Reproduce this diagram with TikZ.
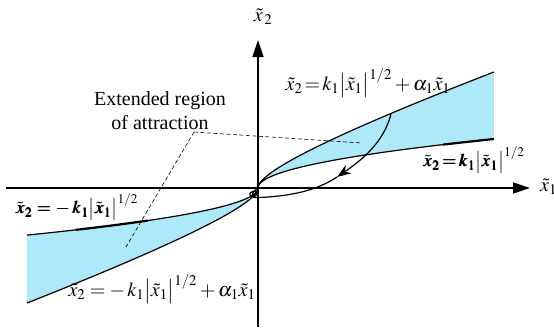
\documentclass[tikz,border=0pt]{standalone}
\usepackage{mathptmx}
\usepackage{bm}
\usepackage[no-math]{fontspec}
\setmainfont{Liberation Serif}
\usetikzlibrary{arrows.meta}
\definecolor{region}{RGB}{174,233,250}
\begin{document}
\begin{tikzpicture}[x=1pt,y=-1pt,
  curve/.style={line width=1.2pt},
  heavy/.style={line width=2.2pt},
  axis/.style={line width=1.3pt,-{Triangle[length=17pt,width=11pt]}},
  lbl/.style={font=\fontsize{20}{24}\selectfont, inner sep=0pt},
  blbl/.style={font=\fontsize{18}{22}\selectfont, inner sep=0pt},
  dashline/.style={line width=0.6pt, dash pattern=on 4pt off 2.5pt}]
\useasboundingbox (0,0) rectangle (554,327);
\fill[white] (0,0) rectangle (554,327);
% shaded regions
\fill[region] plot[domain=0:15.36,samples=60] ({258+\x*\x},{188-3.19*\x-0.284*\x*\x})
  -- plot[domain=15.36:0,samples=60] ({258+\x*\x},{188-3.19*\x}) -- cycle;
\fill[region] plot[domain=0:15.2,samples=60] ({258-\x*\x},{188+3.1*\x+0.294*\x*\x})
  -- plot[domain=15.2:0,samples=60] ({258-\x*\x},{188+3.1*\x}) -- cycle;
% boundary curves
\draw[curve] plot[domain=0:15.36,samples=60] ({258+\x*\x},{188-3.19*\x-0.284*\x*\x});
\draw[curve] plot[domain=0:15.36,samples=60] ({258+\x*\x},{188-3.19*\x});
\draw[curve] plot[domain=0:15.2,samples=60] ({258-\x*\x},{188+3.1*\x+0.294*\x*\x});
\draw[curve] plot[domain=0:15.2,samples=60] ({258-\x*\x},{188+3.1*\x});
\draw[heavy] plot[domain=13.6:15.36,samples=10] ({258+\x*\x},{188-3.19*\x});
\draw[heavy] plot[domain=10.5:13.5,samples=12] ({258-\x*\x},{188+3.1*\x});
% axes
\coordinate (xs) at (6,188);
\coordinate (xe) at (530,188);
\coordinate (yb) at (258,327);
\coordinate (ye) at (258,40);
\coordinate (hs) at (20,187.6);
\coordinate (he) at (143,187.6);
\draw[axis] (xs) -- (xe);
\draw[axis] (yb) -- (ye);
\draw[heavy] (hs) -- (he);
% trajectory
\coordinate (t0) at (391,114);
\coordinate (t1) at (337,177);
\coordinate (t2) at (260,197.5);
\coordinate (O) at (258,188);
\draw[curve,-{Stealth[length=14pt,width=10pt]}] (t0) .. controls (384,142) and (362,160) .. (t1);
\draw[curve] (t1) .. controls (316,191) and (290,196) .. (t2)
  .. controls (249,198.5) and (247,193) .. (253,191.5)
  .. controls (257,190.5) and (259,194) .. (255,196)
  .. controls (252,197.5) and (250,193) .. (O);
% labels
\node[lbl] (lx2) at (263,17) {$\tilde{x}_{\,2}$};
\node[lbl,anchor=west] (lx1) at (540,187) {$\tilde{x}_1$};
\node[lbl,align=center] (ext) at (160,111) {Extended region\\of attraction};
\coordinate (dv) at (194,132);
\coordinate (dr) at (362,143);
\coordinate (dl) at (126,247);
\draw[dashline] (dv) -- (dr);
\draw[dashline] (dv) -- (dl);
\node[lbl] (fu) at (368,83) {$\tilde{x}_2\!=\!k_1\bigl|\tilde{x}_1\bigr|^{1/2}+\alpha_1\tilde{x}_1$};
\node[lbl] (fb) at (162,289) {$\tilde{x}_2=-\,k_1\bigl|\tilde{x}_1\bigr|^{1/2}+\alpha_1\tilde{x}_1$};
\node[blbl] (fr) at (474,160) {$\bm{\tilde{x}_2\!=\!k_1\bigl|\tilde{x}_1\bigr|^{1/2}}$};
\node[blbl] (fl) at (77,207) {$\bm{\tilde{x}_2=-\,k_1\bigl|\tilde{x}_1\bigr|^{1/2}}$};
\end{tikzpicture}
\end{document}
